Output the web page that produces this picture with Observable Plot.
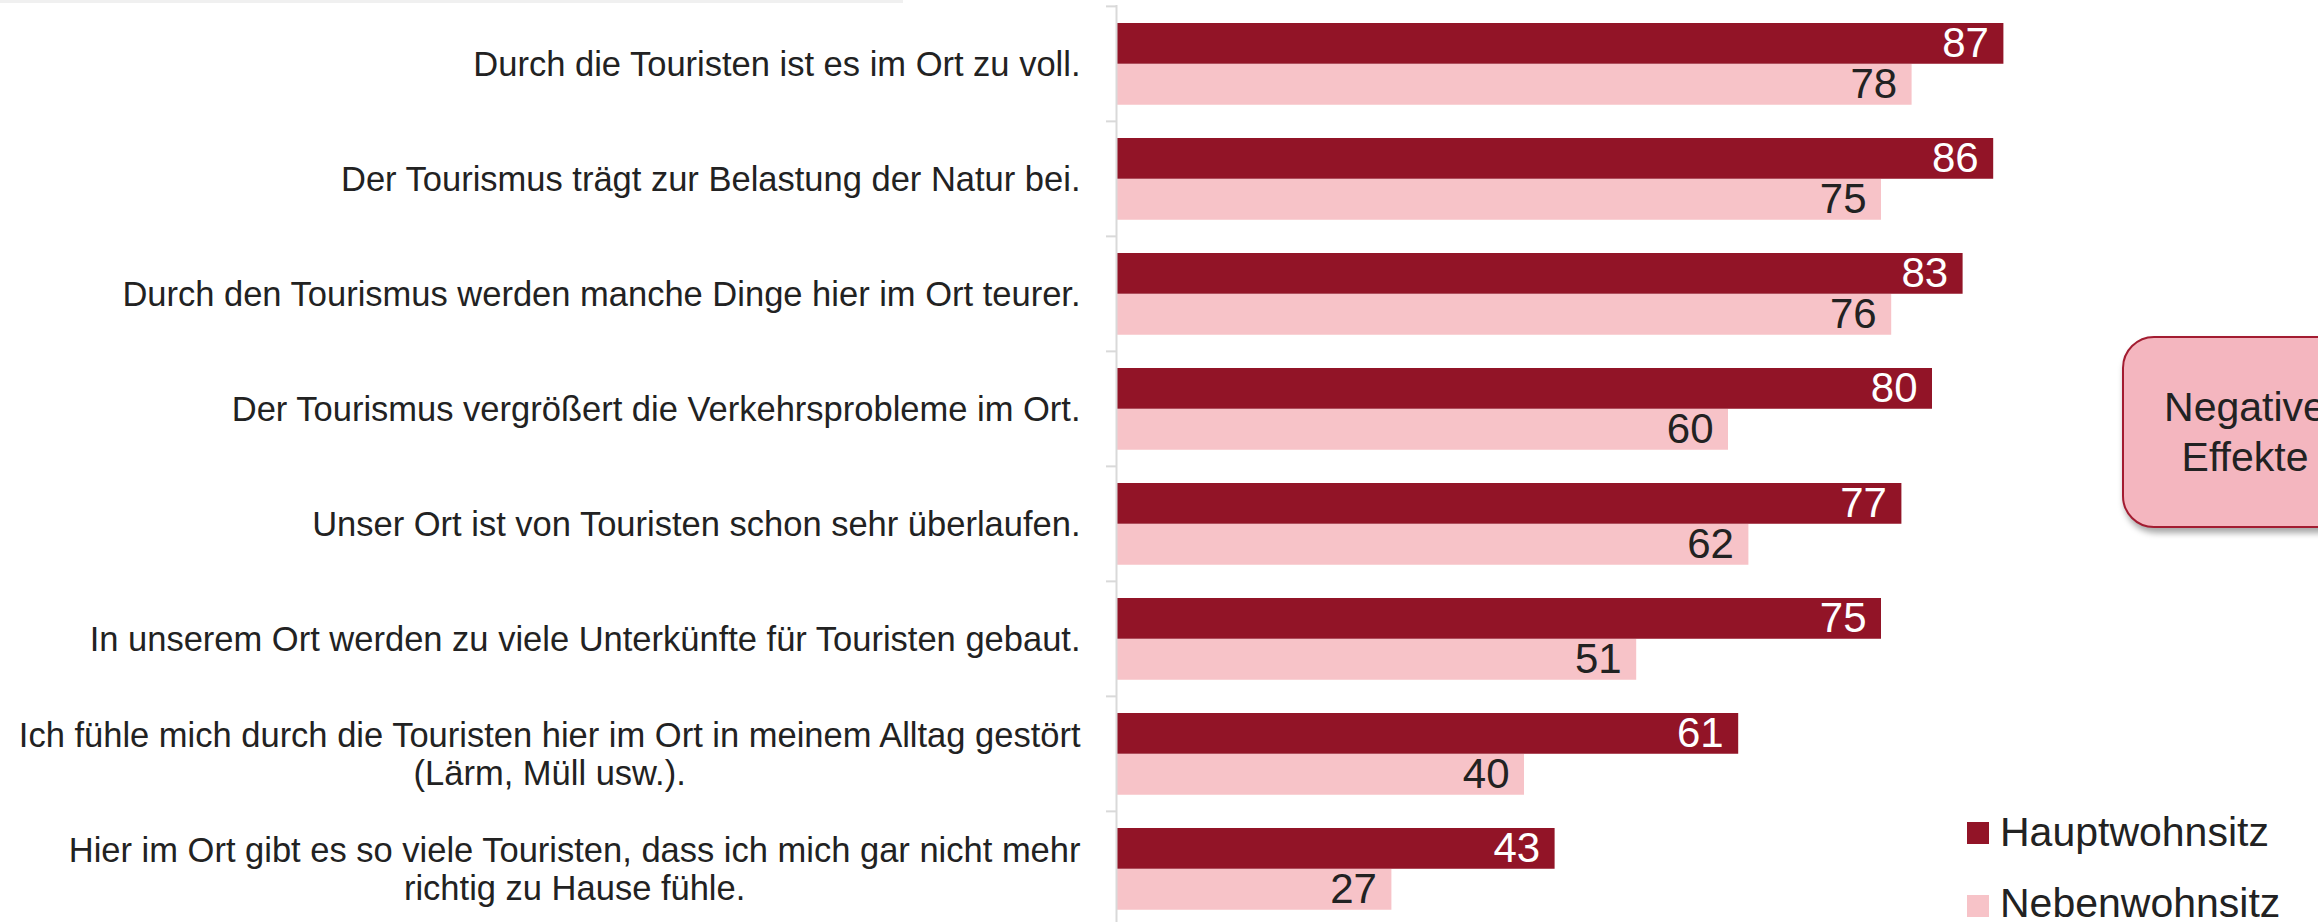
<!DOCTYPE html>
<html>
<head>
<meta charset="utf-8">
<script src="https://cdn.jsdelivr.net/npm/d3@7"></script>
<script src="https://cdn.jsdelivr.net/npm/@observablehq/plot@0.6"></script>
<style>
  html, body { margin: 0; padding: 0; background: #fff; overflow: hidden; }
  #wrap { position: relative; width: 2318px; height: 922px; overflow: hidden; font-family: "Liberation Sans", Arial, sans-serif; color: #222; }
  #topstrip { position: absolute; left: 0; top: 0; width: 903px; height: 3px; background: #f0f0f0; }
  #chart { position: absolute; left: 0; top: 0; }
  .sw { position: absolute; width: 22px; height: 22px; }
  .lt { position: absolute; font-size: 41px; line-height: 41px; white-space: nowrap; color: #222; }
  #box { position: absolute; left: 2122px; top: 336px; width: 246px; height: 192px; box-sizing: border-box;
         border: 2px solid #a31c31; border-radius: 32px; background: #f4b6bf;
         box-shadow: 2px 5px 6px rgba(0,0,0,0.35); display: flex; align-items: center; justify-content: center;
         text-align: center; font-size: 41px; line-height: 50px; color: #222; }
</style>
</head>
<body>
<div id="wrap">
  <div id="chart"></div>
  <div id="topstrip"></div>
  <div id="box"><div>Negative<br>Effekte</div></div>
  <div id="legend"></div>
</div>
<script>
const statements = [
  "Durch die Touristen ist es im Ort zu voll.",
  "Der Tourismus trägt zur Belastung der Natur bei.",
  "Durch den Tourismus werden manche Dinge hier im Ort teurer.",
  "Der Tourismus vergrößert die Verkehrsprobleme im Ort.",
  "Unser Ort ist von Touristen schon sehr überlaufen.",
  "In unserem Ort werden zu viele Unterkünfte für Touristen gebaut.",
  "Ich fühle mich durch die Touristen hier im Ort in meinem Alltag gestört\n(Lärm, Müll usw.).",
  "Hier im Ort gibt es so viele Touristen, dass ich mich gar nicht mehr\nrichtig zu Hause fühle."
];
const hauptwohnsitz = [87, 86, 83, 80, 77, 75, 61, 43];
const nebenwohnsitz = [78, 75, 76, 60, 62, 51, 40, 27];
const series = ["Hauptwohnsitz", "Nebenwohnsitz"];
const seriesColors = ["#921427", "#f7c3c8"];

const haupt = statements.map((s, i) => ({statement: s, series: series[0], value: hauptwohnsitz[i]}));
const neben = statements.map((s, i) => ({statement: s, series: series[1], value: nebenwohnsitz[i]}));

const height = 927, marginTop = 5, marginBottom = 0;
const bw = (height - marginTop - marginBottom) / statements.length;
const barH = 41, pad = 17;

const plot = Plot.plot({
  width: 2318,
  height,
  marginLeft: 1116,
  marginRight: 182,
  marginTop,
  marginBottom,
  style: {fontFamily: "'Liberation Sans', Arial, sans-serif", color: "#222", background: "transparent"},
  x: {domain: [0, 100], axis: null},
  y: {domain: statements, padding: 0, label: null},
  color: {domain: series, range: seriesColors},
  marks: [
    Plot.barX(haupt, {y: "statement", x: "value", fill: "series", insetTop: pad, insetBottom: bw - pad - barH}),
    Plot.barX(neben, {y: "statement", x: "value", fill: "series", insetTop: pad + barH, insetBottom: bw - pad - 2 * barH}),
    Plot.text(haupt, {y: "statement", x: "value", text: d => String(d.value), textAnchor: "end", dx: -15,
      dy: pad + barH / 2 - bw / 2, fill: "white", fontSize: 42}),
    Plot.text(neben, {y: "statement", x: "value", text: d => String(d.value), textAnchor: "end", dx: -15,
      dy: pad + barH * 1.5 - bw / 2, fill: "#222", fontSize: 42}),
    Plot.ruleX([0], {stroke: "#d9d9d9", strokeWidth: 2}),
    Plot.axisY({tickSize: 10, tickFormat: () => "", stroke: "#d9d9d9", strokeWidth: 2, dy: -bw / 2, label: null}),
    Plot.axisY({tickSize: 0, tickPadding: 36, fontSize: 34.5, lineHeight: 1.1, fill: "#222", label: null})
  ]
});
document.getElementById("chart").appendChild(plot);

// center multi-line category labels like the original
plot.querySelectorAll("text").forEach(t => {
  const spans = t.querySelectorAll("tspan");
  if (spans.length > 1) {
    let maxW = 0;
    spans.forEach(s => { maxW = Math.max(maxW, s.getComputedTextLength()); });
    t.setAttribute("text-anchor", "middle");
    t.style.textAnchor = "middle";
    spans.forEach(s => s.setAttribute("x", String(-maxW / 2)));
  }
});

// legend
const legend = document.getElementById("legend");
series.forEach((name, i) => {
  const sw = document.createElement("div");
  sw.className = "sw";
  sw.style.left = "1967px";
  sw.style.top = (822 + i * 73) + "px";
  sw.style.background = seriesColors[i];
  legend.appendChild(sw);
  const lt = document.createElement("div");
  lt.className = "lt";
  lt.style.left = "2000px";
  lt.style.top = (812 + i * 71) + "px";
  lt.textContent = name;
  legend.appendChild(lt);
});
</script>
</body>
</html>
